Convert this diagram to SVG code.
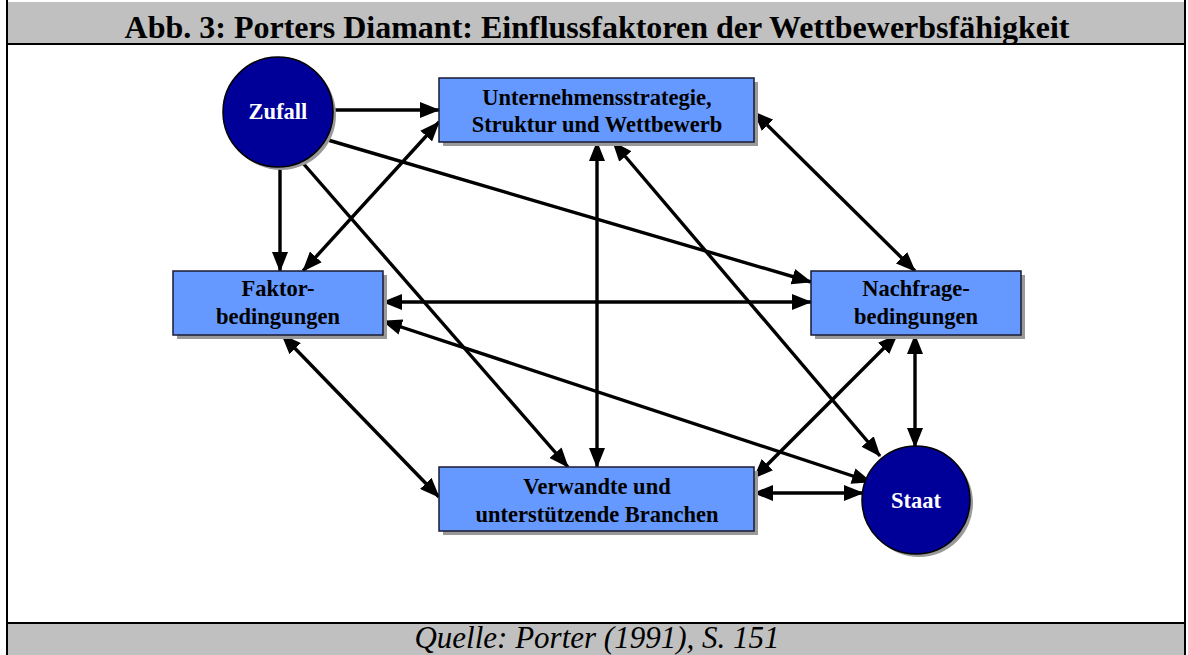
<svg xmlns="http://www.w3.org/2000/svg" width="1188" height="655" viewBox="0 0 1188 655">
<style>
.band{fill:#c0c0c0;}
.title{font-family:"Liberation Serif","Times New Roman",serif;font-weight:bold;font-size:32px;fill:#000;text-anchor:middle;}
.foot{font-family:"Liberation Serif","Times New Roman",serif;font-style:italic;font-size:31px;fill:#000;text-anchor:middle;}
.box{fill:#6699ff;stroke:#1a1a33;stroke-width:1.5;}
.shadow{fill:#999;}
.circ{fill:#000099;stroke:#000;stroke-width:1.5;}
.lbl{font-family:"Liberation Serif","Times New Roman",serif;font-weight:bold;font-size:22.5px;fill:#000;text-anchor:middle;}
.wlbl{font-family:"Liberation Serif","Times New Roman",serif;font-weight:bold;font-size:22.5px;fill:#fff;text-anchor:middle;}
.c line{stroke:#000;stroke-width:3.4;}
.one{marker-end:url(#ah);}
.two{marker-end:url(#ah);marker-start:url(#ah);}
</style>
<defs>
<marker id="ah" markerUnits="userSpaceOnUse" markerWidth="20" markerHeight="16" refX="19" refY="8" orient="auto-start-reverse" viewBox="0 0 20 16">
<path d="M0,0 L20,8 L0,16 z" fill="#000"/>
</marker>
</defs>
<rect x="0" y="0" width="1188" height="655" fill="#fff"/>
<rect class="band" x="7" y="2" width="1178" height="42"/>
<rect class="band" x="7" y="623" width="1178" height="32"/>
<line x1="7" y1="44" x2="1185" y2="44" stroke="#000" stroke-width="2"/>
<line x1="7" y1="623" x2="1185" y2="623" stroke="#000" stroke-width="2"/>
<line x1="7" y1="0" x2="7" y2="655" stroke="#000" stroke-width="2"/>
<line x1="1185" y1="0" x2="1185" y2="655" stroke="#000" stroke-width="2"/>
<text class="title" x="597" y="38">Abb. 3: Porters Diamant: Einflussfaktoren der Wettbewerbsfähigkeit</text>
<text class="foot" x="597" y="648">Quelle: Porter (1991), S. 151</text>

<g class="c" id="connectors">
<line class="one" x1="333" y1="110" x2="439" y2="110"/>
<line class="one" x1="280" y1="167" x2="280" y2="271"/>
<line class="one" x1="328" y1="140" x2="811" y2="282"/>
<line class="one" x1="302" y1="162" x2="568" y2="467"/>
<line class="two" x1="303" y1="271" x2="439" y2="122"/>
<line class="two" x1="597" y1="142" x2="597" y2="467"/>
<line class="two" x1="754" y1="112" x2="915" y2="271"/>
<line class="two" x1="613" y1="142" x2="880" y2="456"/>
<line class="two" x1="383" y1="302" x2="811" y2="302"/>
<line class="two" x1="383" y1="321" x2="871" y2="482"/>
<line class="two" x1="282" y1="335" x2="439" y2="497"/>
<line class="two" x1="897" y1="335" x2="754" y2="478"/>
<line class="two" x1="915" y1="335" x2="915" y2="447"/>
<line class="two" x1="754" y1="493" x2="863" y2="493"/>
</g>

<g id="zufall">
<circle class="shadow" cx="281" cy="115" r="55"/>
<circle class="circ" cx="278" cy="112" r="55"/>
<text class="wlbl" x="278" y="119">Zufall</text>
</g>
<g id="unternehmen">
<rect class="shadow" x="443" y="82" width="315" height="64"/>
<rect class="box" x="439" y="78" width="315" height="64"/>
<text class="lbl" x="597" y="105">Unternehmensstrategie,</text>
<text class="lbl" x="597" y="132">Struktur und Wettbewerb</text>
</g>
<g id="faktor">
<rect class="shadow" x="177" y="275" width="210" height="64"/>
<rect class="box" x="173" y="271" width="210" height="64"/>
<text class="lbl" x="278" y="296">Faktor-</text>
<text class="lbl" x="278" y="324">bedingungen</text>
</g>
<g id="nachfrage">
<rect class="shadow" x="815" y="275" width="210" height="64"/>
<rect class="box" x="811" y="271" width="210" height="64"/>
<text class="lbl" x="916" y="296">Nachfrage-</text>
<text class="lbl" x="916" y="324">bedingungen</text>
</g>
<g id="verwandte">
<rect class="shadow" x="443" y="471" width="315" height="64"/>
<rect class="box" x="439" y="467" width="315" height="64"/>
<text class="lbl" x="597" y="494">Verwandte und</text>
<text class="lbl" x="597" y="522">unterstützende Branchen</text>
</g>
<g id="staat">
<circle class="shadow" cx="919" cy="503" r="54"/>
<circle class="circ" cx="916" cy="500" r="54"/>
<text class="wlbl" x="916" y="508">Staat</text>
</g>
</svg>
